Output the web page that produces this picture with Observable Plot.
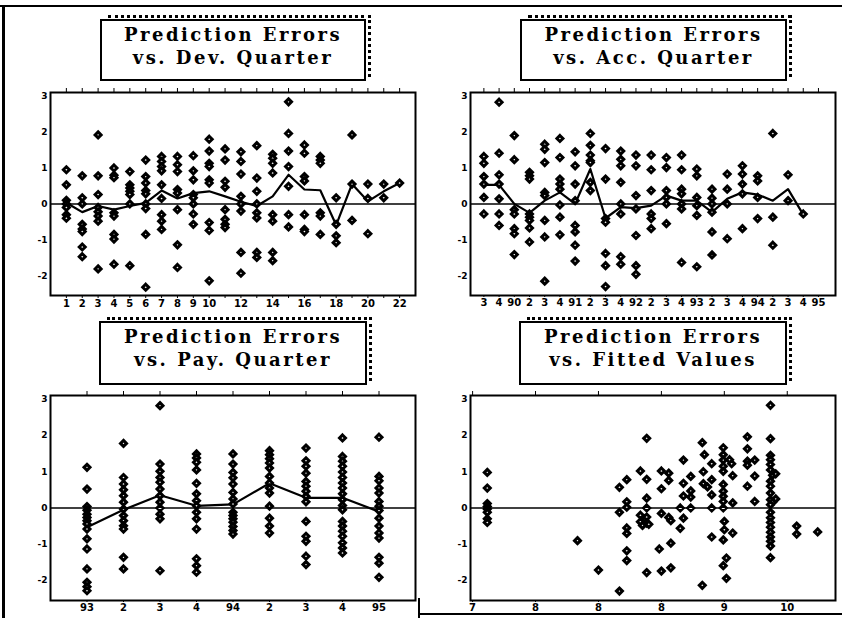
<!DOCTYPE html>
<html><head><meta charset="utf-8">
<script src="https://cdn.jsdelivr.net/npm/d3@7"></script>
<script src="https://cdn.jsdelivr.net/npm/@observablehq/plot@0.6"></script>
<style>
html,body{margin:0;padding:0;background:#fff;}
#page{position:relative;width:842px;height:618px;overflow:hidden;background:#fff;}
.panel{position:absolute;}
.panel svg{display:block;}
.tbox{position:absolute;box-sizing:border-box;border:2px solid #000;background:#fff;text-align:center;
  font-family:"DejaVu Serif",serif;font-weight:bold;font-size:18px;letter-spacing:2.5px;line-height:22.5px;padding-top:3px;color:#000;white-space:nowrap;}
.shadow{position:absolute;box-sizing:border-box;border-top:3px dotted #000;border-right:3px dotted #000;}
.bline{position:absolute;background:#000;}
</style></head>
<body>
<div id="page">
  <div class="bline" style="left:0;top:5px;width:842px;height:2px;"></div>
  <div class="bline" style="left:2px;top:5px;width:3px;height:613px;"></div>
  <div class="bline" style="left:418px;top:598px;width:2px;height:20px;"></div>
  <div class="bline" style="left:420px;top:613px;width:422px;height:1.5px;"></div>
</div>
<script>
// ---------- shared axis values ----------
const yTicks = [3, 2, 1, 0, -1, -2];
const yTickLabels = ["3", "2", "1", "0", "-1", "-2"];

// ---------- panel 1: errors vs development quarter ----------
const devQuarters = [1,2,3,4,5,6,7,8,9,10,11,12,13,14,15,16,17,18,19,20,21,22];
const devTickLabels = ["1","2","3","4","5","6","7","8","9","10","","12","","14","","16","","18","","20","","22"];
const devErrors = [
  [0.95, 0.53, 0.1, 0.0, -0.1, -0.3, -0.4],
  [0.78, 0.17, 0.0, -0.57, -0.7, -0.77, -1.2, -1.47],
  [1.92, 0.78, 0.26, -0.1, -0.22, -0.34, -0.48, -1.81],
  [1.0, 0.8, 0.73, -0.25, -0.34, -0.85, -0.98, -1.68],
  [0.9, 0.53, 0.44, 0.35, 0.26, 0.0, -1.72],
  [1.22, 0.76, 0.58, 0.37, 0.28, 0.0, -0.13, -0.85, -2.32],
  [1.32, 1.18, 1.04, 0.92, 0.53, 0.15, -0.3, -0.48, -0.71],
  [1.32, 1.09, 0.9, 0.4, 0.3, -0.16, -1.14, -1.77],
  [1.34, 0.92, 0.67, 0.26, 0.17, 0.0, -0.28, -0.57],
  [1.8, 1.47, 1.13, 1.04, 0.67, 0.58, -0.52, -0.74, -2.14],
  [1.53, 1.22, 0.63, 0.46, -0.16, -0.43, -0.57, -0.66],
  [1.45, 1.18, 0.83, 0.21, 0.0, -0.2, -1.35, -1.93],
  [1.62, 0.72, 0.35, 0.0, -0.25, -0.39, -1.35, -1.49],
  [1.38, 1.27, 1.13, 0.86, -0.3, -0.48, -1.35, -1.58],
  [2.84, 1.96, 1.47, 1.04, 0.49, -0.3, -0.64],
  [1.64, 1.41, 0.76, 0.64, -0.3, -0.71, -0.77],
  [1.32, 1.22, 1.13, -0.25, -0.34, -0.85],
  [0.17, -0.57, -0.89, -1.08],
  [1.92, 0.55, -0.46],
  [0.55, 0.15, -0.83],
  [0.55, 0.17],
  [0.58]
];
const devMeans = [0.03, -0.23, -0.06, -0.16, -0.06, 0.03, 0.37, 0.15, 0.3, 0.35, 0.21, 0.06, -0.06, 0.21, 0.81, 0.4, 0.38, -0.59, 0.55, 0.07, 0.35, 0.58];

// ---------- panel 2: errors vs accident quarter ----------
const accQuarters = [1,2,3,4,5,6,7,8,9,10,11,12,13,14,15,16,17,18,19,20,21,22,23];
const accTickLabels = ["3","4","90","2","3","4","91","2","3","4","92","2","3","4","93","2","3","4","94","2","3","4","95"];
const accErrors = [
  [1.32, 1.13, 0.76, 0.55, 0.18, -0.28],
  [2.83, 1.41, 0.81, 0.55, 0.14, -0.28, -0.6],
  [1.9, 1.23, -0.16, -0.28, -0.69, -0.83, -1.41],
  [0.88, 0.78, 0.69, -0.28, -0.37, -0.46, -0.67, -1.06],
  [1.66, 1.52, 1.15, 0.32, 0.23, -0.46, -0.92, -2.15],
  [1.82, 1.29, 0.69, 0.55, 0.41, -0.03, -0.37, -0.86],
  [1.45, 1.06, 0.55, 0.09, -0.6, -0.78, -1.15, -1.59],
  [1.96, 1.63, 1.36, 1.2, 1.15, 0.6, 0.37],
  [1.54, 0.69, -0.41, -0.51, -1.38, -1.72, -2.3],
  [1.47, 1.24, 1.06, 0.6, 0.0, -0.28, -1.47, -1.68],
  [1.36, 1.06, 0.23, -0.14, -0.88, -1.72, -1.96],
  [1.36, 0.95, 0.37, -0.28, -0.41, -0.69],
  [1.29, 1.01, 0.37, 0.18, 0.0, -0.55],
  [1.36, 0.95, 0.41, 0.28, 0.0, -0.14, -1.63],
  [0.97, 0.78, 0.18, -0.05, -0.32, -1.75],
  [0.41, 0.16, 0.0, -0.23, -0.78, -1.42],
  [0.83, 0.41, 0.0, -0.97],
  [1.06, 0.83, 0.55, 0.28, -0.69],
  [0.78, 0.64, 0.18, -0.41],
  [1.96, -0.37, -1.15],
  [0.81, 0.09],
  [-0.28]
];
const accMeans = [0.53, 0.53, 0.0, -0.25, 0.09, 0.32, 0.0, 0.97, -0.4, -0.09, -0.12, -0.05, 0.23, 0.09, 0.09, -0.23, 0.14, 0.32, 0.26, 0.09, 0.41, -0.3];

// ---------- panel 3: errors vs payment quarter ----------
const payQuarters = [1,2,3,4,5,6,7,8,9];
const payTickLabels = ["93","2","3","4","94","2","3","4","95"];
const payErrors = [
  [1.12, 0.52, 0.04, -0.06, -0.17, -0.26, -0.35, -0.44, -0.58, -0.85, -1.13, -1.68, -2.05, -2.17, -2.28],
  [1.78, 0.84, 0.66, 0.5, 0.34, 0.16, -0.03, -0.21, -0.35, -0.49, -0.58, -1.36, -1.68],
  [2.82, 1.21, 1.01, 0.84, 0.71, 0.52, 0.34, 0.16, 0.0, -0.17, -0.3, -1.73],
  [1.49, 1.38, 1.26, 1.05, 0.68, 0.39, 0.2, 0.06, -0.12, -0.3, -0.58, -1.4, -1.59, -1.77],
  [1.49, 1.21, 0.98, 0.83, 0.66, 0.43, 0.25, 0.11, -0.12, -0.21, -0.3, -0.39, -0.51, -0.62, -0.72],
  [1.58, 1.47, 1.36, 1.24, 1.1, 0.87, 0.69, 0.55, 0.41, 0.05, -0.28, -0.5, -0.69],
  [1.65, 1.3, 1.15, 0.96, 0.73, 0.6, 0.46, 0.32, 0.17, -0.37, -0.78, -0.92, -1.33, -1.56],
  [1.93, 1.42, 1.29, 1.15, 0.99, 0.84, 0.69, 0.55, 0.39, 0.23, 0.07, -0.05, -0.37, -0.5, -0.64, -0.78, -0.96, -1.1, -1.24],
  [1.95, 0.87, 0.75, 0.55, 0.41, 0.18, 0.05, -0.07, -0.28, -0.5, -0.69, -0.83, -1.36, -1.52, -1.91]
];
const payMeans = [-0.53, -0.05, 0.35, 0.06, 0.1, 0.68, 0.28, 0.28, -0.1];

// ---------- panel 4: errors vs fitted values ----------
const fitTicks = [7, 7.6, 8.2, 8.8, 9.4, 10];
const fitTickLabels = ["7", "8", "8", "8", "9", "10"];
const fitX = [
  7.14, 7.14, 7.14, 7.14, 7.14, 7.14, 7.14, 7.14,
  8.0, 8.2, 8.4,
  8.4, 8.4, 8.47, 8.47, 8.47, 8.47, 8.47, 8.47, 8.47,
  8.6, 8.66, 8.66, 8.66, 8.66, 8.6, 8.6, 8.62, 8.64, 8.66, 8.66, 8.68, 8.66,
  8.8, 8.8, 8.87, 8.87, 8.8, 8.87, 8.89, 8.78, 8.89, 8.8, 8.89,
  8.98, 9.01, 9.01, 9.01, 9.01, 8.98, 9.08, 9.08, 9.08, 9.08,
  9.19, 9.21, 9.28, 9.2, 9.28, 9.2, 9.24, 9.28, 9.28, 9.28, 9.19,
  9.39, 9.39, 9.39, 9.39, 9.39, 9.45, 9.47, 9.48, 9.39, 9.39, 9.39, 9.39, 9.48, 9.39, 9.4, 9.4, 9.48, 9.39, 9.42, 9.39, 9.42,
  9.62, 9.62, 9.62, 9.62, 9.69, 9.69, 9.62, 9.69,
  9.84, 9.84, 9.84, 9.84, 9.84, 9.84, 9.86, 9.84, 9.84, 9.84, 9.84, 9.86, 9.84, 9.84, 9.84, 9.84, 9.84, 9.84, 9.84, 9.84, 9.84, 9.84,
  9.89, 9.89,
  10.09, 10.09, 10.29
];
const fitErr = [
  0.98, 0.55, 0.12, 0.04, -0.03, -0.12, -0.3, -0.4,
  -0.9, -1.71, -2.29,
  0.57, -0.12, 0.78, 0.17, 0.02, -0.55, -0.7, -1.18, -1.45,
  1.02, 1.92, 0.79, 0.27, 0.0, -0.2, -0.38, -0.48, -0.3, -0.25, -0.42, -0.45, -1.78,
  1.02, 0.53, 0.96, 0.76, -0.15, -0.26, -0.35, -1.13, -0.97, -1.74, -1.65,
  0.0, 1.32, 0.68, 0.33, -0.28, -0.56, 0.87, 0.47, 0.3, 0.0,
  1.8, 1.47, 1.22, 1.0, 0.78, 0.67, 0.58, 0.36, 0.0, -0.8, -2.13,
  1.66, 1.47, 1.32, 1.15, 1.01, 1.33, 1.22, 0.89, 0.65, 0.46, 0.32, 0.18, 0.14, 0.0, -0.37, -0.6, -0.69, -0.88, -1.38, -1.59, -1.94,
  1.96, 1.63, 1.29, 1.18, 1.32, 0.88, 0.6, 0.18,
  2.83, 1.91, 1.45, 1.33, 1.2, 1.05, 0.9, 0.74, 0.6, 0.41, 0.23, 0.16, 0.09, -0.12, -0.27, -0.4, -0.53, -0.67, -0.8, -0.92, -1.05, -1.37,
  0.94, 0.25,
  -0.5, -0.72, -0.66
];

// ---------- build tables ----------
const groupTable = (xs, groups) => groups.flatMap((g, i) => g.map(v => ({x: xs[i], y: v})));
const lineTable = (xs, means) => means.map((v, i) => ({x: xs[i], y: v}));

const Y_DOMAIN = [-2.55, 3.1];

function makePanel({points, means, xDomain, ticks, labels, bottomTickSize, marginBottom}) {
  return Plot.plot({
    width: 410, height: 240,
    marginLeft: 40, marginRight: 5, marginTop: 17, marginBottom,
    x: {domain: xDomain},
    y: {domain: Y_DOMAIN},
    style: {fontFamily: "DejaVu Sans", fontWeight: "bold", fontSize: "10px", color: "black", background: "transparent", overflow: "visible"},
    marks: [
      Plot.ruleY([0], {stroke: "black", strokeWidth: 1.5}),
      Plot.line(means, {x: "x", y: "y", stroke: "black", strokeWidth: 2.2}),
      Plot.dot(points, {x: "x", y: "y", symbol: "diamond2", r: 2.7, fill: "white", stroke: "black", strokeWidth: 3}),
      Plot.frame({stroke: "black", strokeWidth: 2}),
      Plot.axisY({ticks: yTicks, tickSize: 0, tickPadding: 3, fontSize: 9,
        tickFormat: d => yTickLabels[yTicks.indexOf(d)], label: null}),
      Plot.axisX({anchor: "bottom", ticks, tickSize: bottomTickSize, tickPadding: 1,
        tickFormat: d => labels[ticks.indexOf(d)], label: null}),
      Plot.axisX({anchor: "top", ticks, tickSize: 5, tickFormat: () => "", label: null})
    ]
  });
}

const page = document.getElementById("page");
function place(node, left, top) {
  const wrap = document.createElement("div");
  wrap.className = "panel";
  wrap.style.left = left + "px";
  wrap.style.top = top + "px";
  wrap.appendChild(node);
  page.appendChild(wrap);
}

place(makePanel({
  points: groupTable(devQuarters, devErrors), means: lineTable(devQuarters, devMeans),
  xDomain: [0, 23], ticks: devQuarters, labels: devTickLabels, bottomTickSize: 3, marginBottom: 20
}), 10, 75);

place(makePanel({
  points: groupTable(accQuarters, accErrors), means: lineTable(accQuarters, accMeans),
  xDomain: [0.12, 24.12], ticks: accQuarters, labels: accTickLabels, bottomTickSize: 2, marginBottom: 20
}), 430, 75);

place(makePanel({
  points: groupTable(payQuarters, payErrors), means: lineTable(payQuarters, payMeans),
  xDomain: [0, 10], ticks: payQuarters, labels: payTickLabels, bottomTickSize: 2, marginBottom: 18
}), 10, 378);

place(makePanel({
  points: fitX.map((x, i) => ({x, y: fitErr[i]})), means: [],
  xDomain: [6.98, 10.46], ticks: fitTicks, labels: fitTickLabels, bottomTickSize: 2, marginBottom: 18
}), 430, 378);

// ---------- title boxes ----------
const titles = [
  {l1: "Prediction Errors", l2: "vs. Dev. Quarter", left: 100, top: 19, w: 266, h: 62},
  {l1: "Prediction Errors", l2: "vs. Acc. Quarter", left: 520, top: 19, w: 267, h: 62},
  {l1: "Prediction Errors", l2: "vs. Pay. Quarter", left: 99, top: 321, w: 268, h: 64},
  {l1: "Prediction Errors", l2: "vs. Fitted Values", left: 519, top: 321, w: 268, h: 64}
];
for (const t of titles) {
  const sh = document.createElement("div");
  sh.className = "shadow";
  Object.assign(sh.style, {left: (t.left + 8) + "px", top: (t.top - 4) + "px", width: (t.w - 3) + "px", height: t.h + "px"});
  page.appendChild(sh);
  const b = document.createElement("div");
  b.className = "tbox";
  Object.assign(b.style, {left: t.left + "px", top: t.top + "px", width: t.w + "px", height: t.h + "px"});
  b.innerHTML = `<div>${t.l1}</div><div>${t.l2}</div>`;
  page.appendChild(b);
}
</script>
</body></html>
